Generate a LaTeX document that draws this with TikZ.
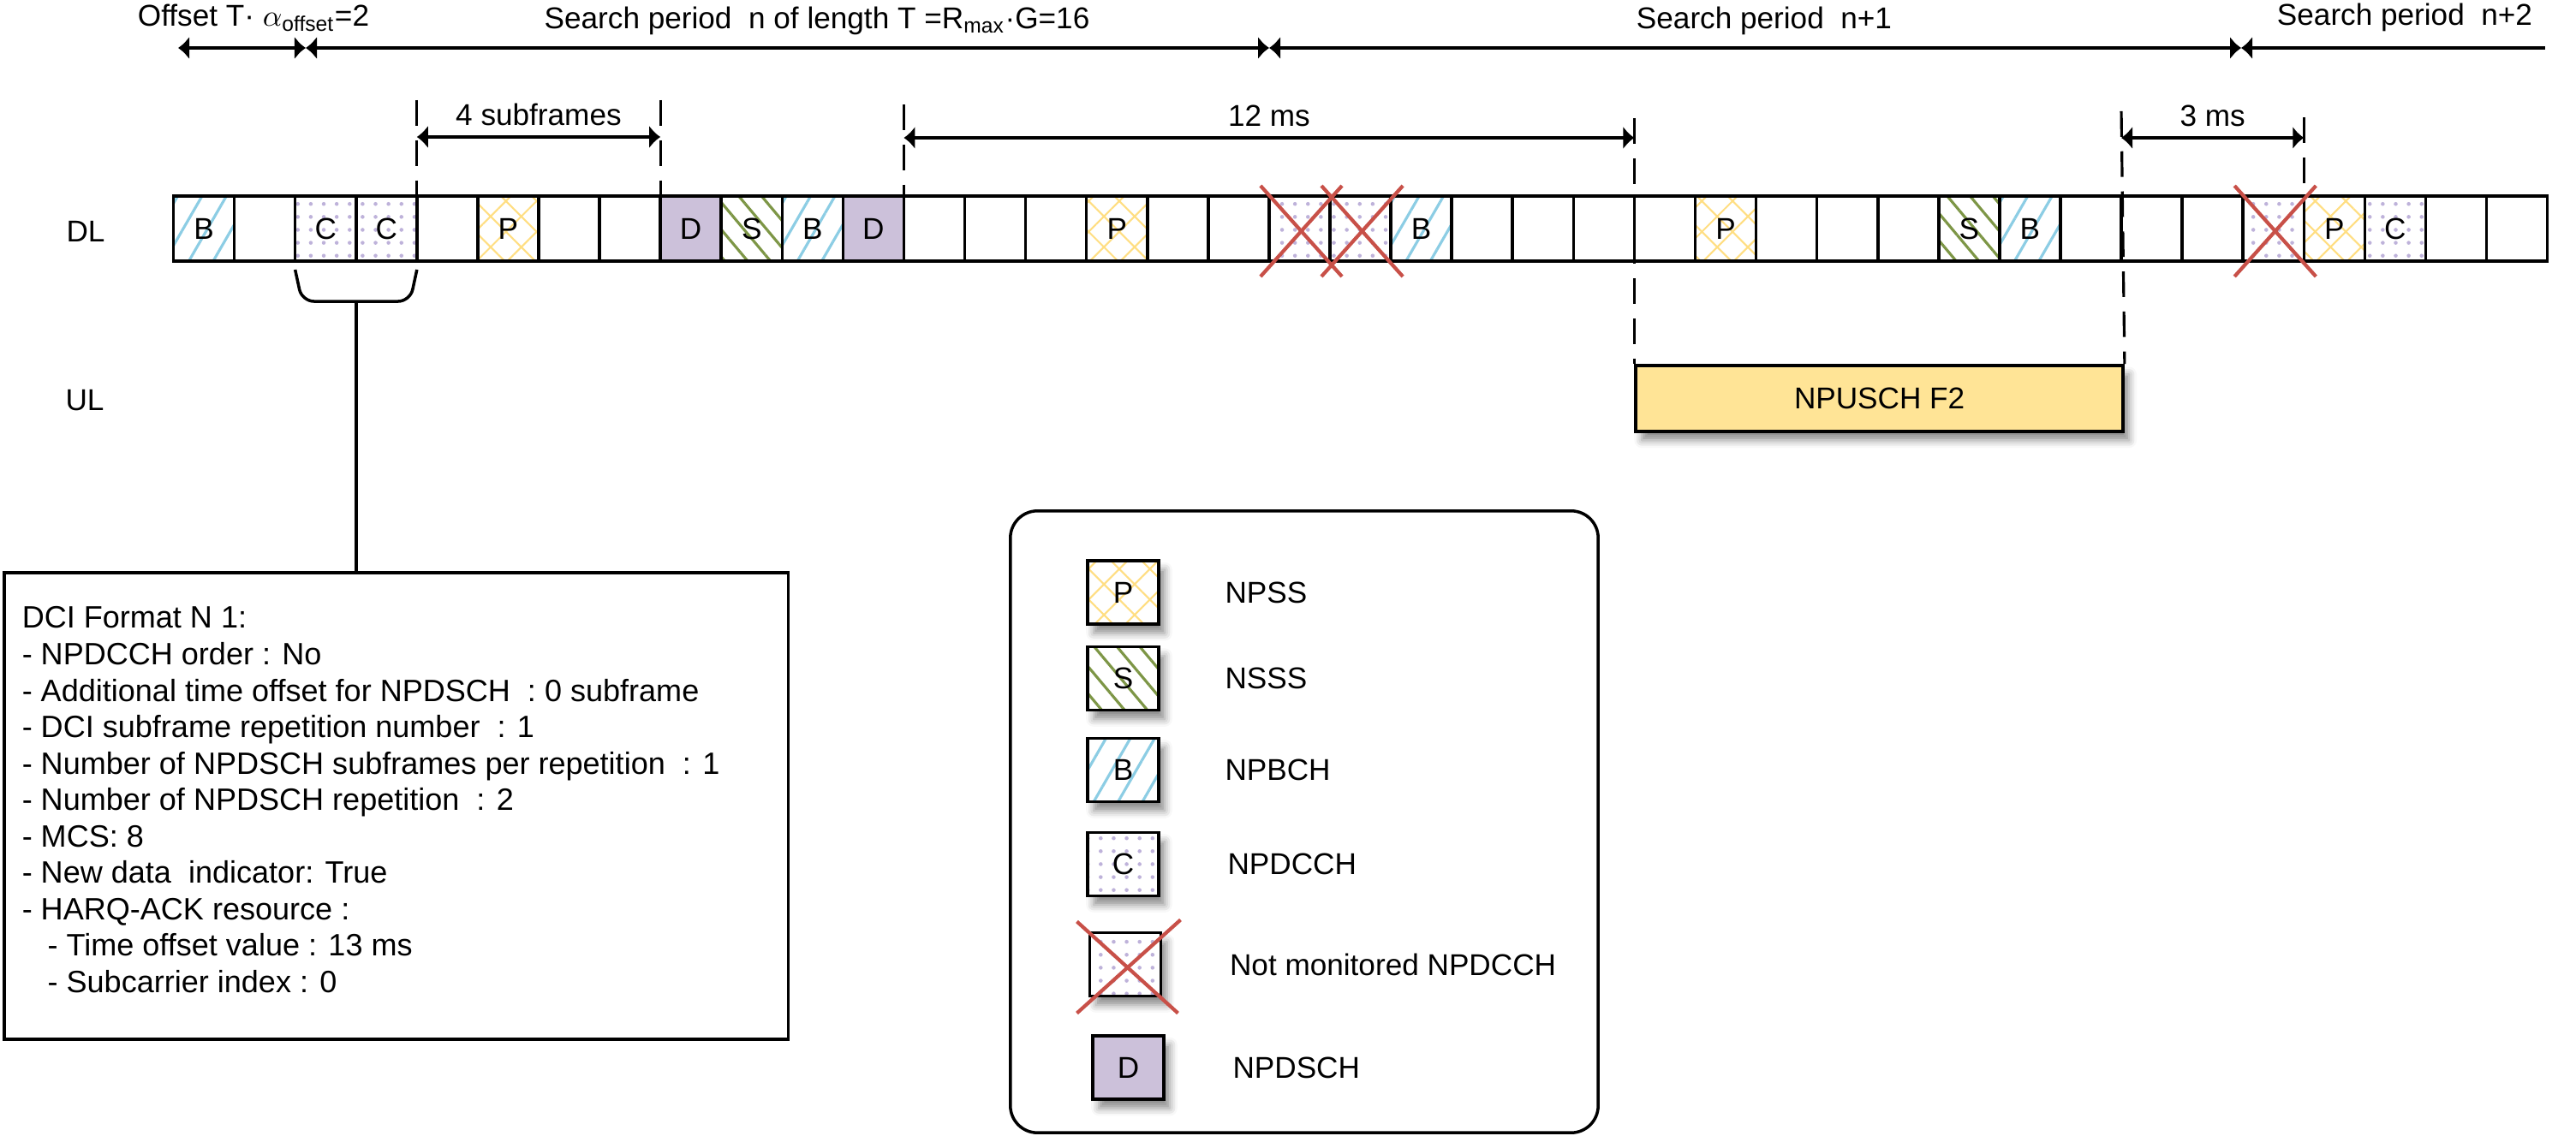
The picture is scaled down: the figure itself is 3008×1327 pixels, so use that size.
\documentclass[tikz,border=0pt]{standalone}
\usepackage{fontspec}
\setmainfont{Liberation Sans}
\usetikzlibrary{arrows.meta,patterns.meta,shadows.blur,backgrounds,positioning}

\definecolor{bcol}{RGB}{140,205,228}
\definecolor{scol}{RGB}{125,150,70}
\definecolor{pcol}{RGB}{255,222,130}
\definecolor{ccol}{RGB}{190,178,218}
\definecolor{dcol}{RGB}{204,193,218}
\definecolor{ucol}{RGB}{255,228,150}
\definecolor{xcol}{RGB}{200,80,72}

\begin{document}
\begin{tikzpicture}[x=0.01cm,y=-0.01cm,>={Latex[length=3.7pt,width=7.7pt]},line width=1pt,font=\fontsize{10}{12}\selectfont]

\tikzstyle{cell}=[draw,line width=1pt,minimum width=0.7108cm,minimum height=0.76cm,inner sep=0pt,outer sep=0pt,font=\fontsize{10}{10}\selectfont]
\tikzstyle{tN}=[cell]
\tikzstyle{tB}=[cell,pattern={Lines[angle=60,distance=7pt,line width=0.9pt]},pattern color=bcol]
\tikzstyle{tS}=[cell,pattern={Lines[angle=-50,distance=5.8pt,line width=0.9pt]},pattern color=scol]
\tikzstyle{tP}=[cell,pattern={Hatch[angle=45,distance=7.2pt,line width=0.6pt]},pattern color=pcol]
\tikzstyle{tC}=[cell,pattern={Dots[distance=4.3pt,radius=0.65pt]},pattern color=ccol]
\tikzstyle{tX}=[tC]
\tikzstyle{tD}=[cell,fill=dcol]
\tikzstyle{xmark}=[draw=xcol,line width=1.2pt]
\tikzstyle{dimline}=[dash pattern=on 8.5pt off 4.8pt,line width=0.9pt]
\tikzstyle{softshadow}=[blur shadow={shadow xshift=2pt,shadow yshift=-3pt,shadow blur radius=2.5pt,shadow opacity=45}]
\tikzstyle{legcell}=[minimum width=0.83cm,minimum height=0.74cm,softshadow,preaction={fill=white}]

    \useasboundingbox (0,0) rectangle (3008,1327);

    % DL subframes
    \foreach \ty/\lb [count=\i from 0] in {B/B,N/{},C/C,C/C,N/{},P/P,N/{},N/{},D/D,S/S,B/B,D/D,N/{},N/{},N/{},P/P,N/{},N/{},X/{},X/{},B/B,N/{},N/{},N/{},N/{},P/P,N/{},N/{},N/{},S/S,B/B,N/{},N/{},N/{},X/{},P/P,C/C,N/{},N/{}}
        \node[t\ty] (c\i) at ({238.04+71.08*\i},267) {\lb};

    \begin{scope}[on background layer]
    \path[fill=white,blur shadow={shadow xshift=1.5pt,shadow yshift=-4pt,shadow blur radius=3pt,shadow opacity=45}] (c0.north west) rectangle (c38.south east);
    \end{scope}

    \foreach \k in {18,19,34} {
        \draw[xmark] ([shift={(-10,-12)}]c\k.north west) -- ([shift={(14,18)}]c\k.south east);
        \draw[xmark] ([shift={(14,-12)}]c\k.north east) -- ([shift={(-10,18)}]c\k.south west);
    }

    \node (dl) at (100,270) {DL};
    \node (ulname) at (99,468) {UL};

    \node[draw,line width=1pt,fill=ucol,minimum width=5.6864cm,minimum height=0.77cm,inner sep=0pt,anchor=north west,softshadow] (ul) at ([shift={(0,120)}]c24.south west) {NPUSCH F2};

    % search periods
    \coordinate (a0) at (208,56);
    \coordinate (a1) at (357,56);
    \coordinate (a2) at (1482,56);
    \coordinate (a3) at (2617,56);
    \coordinate (a4) at (2972,56);
    \draw[<->] (a0) -- (a1);
    \draw[<->] (a1) -- (a2);
    \draw[<->] (a2) -- (a3);
    \draw[<-] (a3) -- (a4);

    \node[anchor=base] (toff) at (296,31) {Offset T· $\alpha$\textsubscript{offset}=2};
    \node[anchor=base] (tn) at (954,33) {Search period\ \ n of length T =R\textsubscript{max}·G=16};
    \node[anchor=base] (tn1) at (2060,33) {Search period\ \ n+1};
    \node[anchor=base] (tn2) at (2808,30) {Search period\ \ n+2};

    % dimension lines
    \coordinate (d4) at ([shift={(0,-112)}]c4.north west);
    \coordinate (d8) at ([shift={(0,-112)}]c8.north west);
    \coordinate (d12) at ([shift={(0,-107)}]c12.north west);
    \coordinate (d24) at ([shift={(0,-91)}]c24.north west);
    \coordinate (d32) at ([shift={(0,-99)}]c32.north west);
    \coordinate (d35) at ([shift={(0,-92)}]c35.north west);
    \draw[dimline] (d4) -- (c4.north west);
    \draw[dimline] (d8) -- (c8.north west);
    \draw[dimline] (d12) -- (c12.north west);
    \draw[dimline] (d24) -- (ul.north west);
    \draw[dimline] (d32) -- (ul.north east);
    \draw[dimline] (d35) -- (c35.north west);

    \coordinate (s4) at ([shift={(0,-69)}]c4.north west);
    \coordinate (s8) at ([shift={(0,-69)}]c8.north west);
    \coordinate (s12) at ([shift={(0,-68)}]c12.north west);
    \coordinate (s24) at ([shift={(0,-68)}]c24.north west);
    \coordinate (s32) at ([shift={(0,-68)}]c32.north west);
    \coordinate (s35) at ([shift={(0,-68)}]c35.north west);
    \draw[<->] (s4) -- node[above] {4 subframes} (s8);
    \draw[<->] (s12) -- node[above] {12 ms} (s24);
    \draw[<->] (s32) -- node[above] {3 ms} (s35);

    % DCI
    \node[draw,line width=1pt,minimum width=9.15cm,minimum height=5.45cm,anchor=north west] (dci) at (3,667) {};
    \node[anchor=north west,align=left,inner sep=0pt,font=\fontsize{10.25}{12.1}\selectfont] (dcitext) at (24,707) {DCI Format N 1:\\
- NPDCCH order : No\\
- Additional time offset for NPDSCH~~: 0 subframe\\
- DCI subframe repetition number~~: 1\\
- Number of NPDSCH subframes per repetition~~: 1\\
- Number of NPDSCH repetition~~: 2\\
- MCS: 8\\
- New data~~indicator: True\\
- HARQ-ACK resource :\\
\hspace*{8.5pt}- Time offset value : 13 ms\\
\hspace*{8.5pt}- Subcarrier index : 0};

    \coordinate (br) at ([shift={(0,47)}]c2.south east);
    \draw[rounded corners=4pt] ([shift={(0,10)}]c2.south west) -- ([shift={(8,47)}]c2.south west) -- ([shift={(-8,47)}]c3.south east) -- ([shift={(0,10)}]c3.south east);
    \draw (br) -- (br |- dci.north);

    % legend
    \node[draw,line width=1pt,rounded corners=9pt,minimum width=6.86cm,minimum height=7.26cm] (leg) at (1523,960) {};
    \node[tP,legcell] (lp) at (1311.5,692) {P};
    \node[tS,legcell] (ls) at (1311.5,792.5) {S};
    \node[tB,legcell] (lb) at (1311.5,899.5) {B};
    \node[tC,legcell] (lc) at (1311.5,1009.5) {C};
    \node[tX,legcell] (lx) at (1314,1126.5) {};
    \node[tD,legcell,preaction={fill=dcol}] (ld) at (1317.5,1247) {D};
    \draw[xmark] ([shift={(-15,-13)}]lx.north west) -- ([shift={(20,20)}]lx.south east);
    \draw[xmark] ([shift={(23,-15)}]lx.north east) -- ([shift={(-15,20)}]lx.south west);

    \node[right=0.64cm of lp] (lpt) {NPSS};
    \node[right=0.64cm of ls] (lst) {NSSS};
    \node[right=0.64cm of lb] (lbt) {NPBCH};
    \node[right=0.67cm of lc] (lct) {NPDCCH};
    \node[right=0.67cm of lx] (lxt) {Not monitored NPDCCH};
    \node[right=0.67cm of ld] (ldt) {NPDSCH};

\end{tikzpicture}
\end{document}
